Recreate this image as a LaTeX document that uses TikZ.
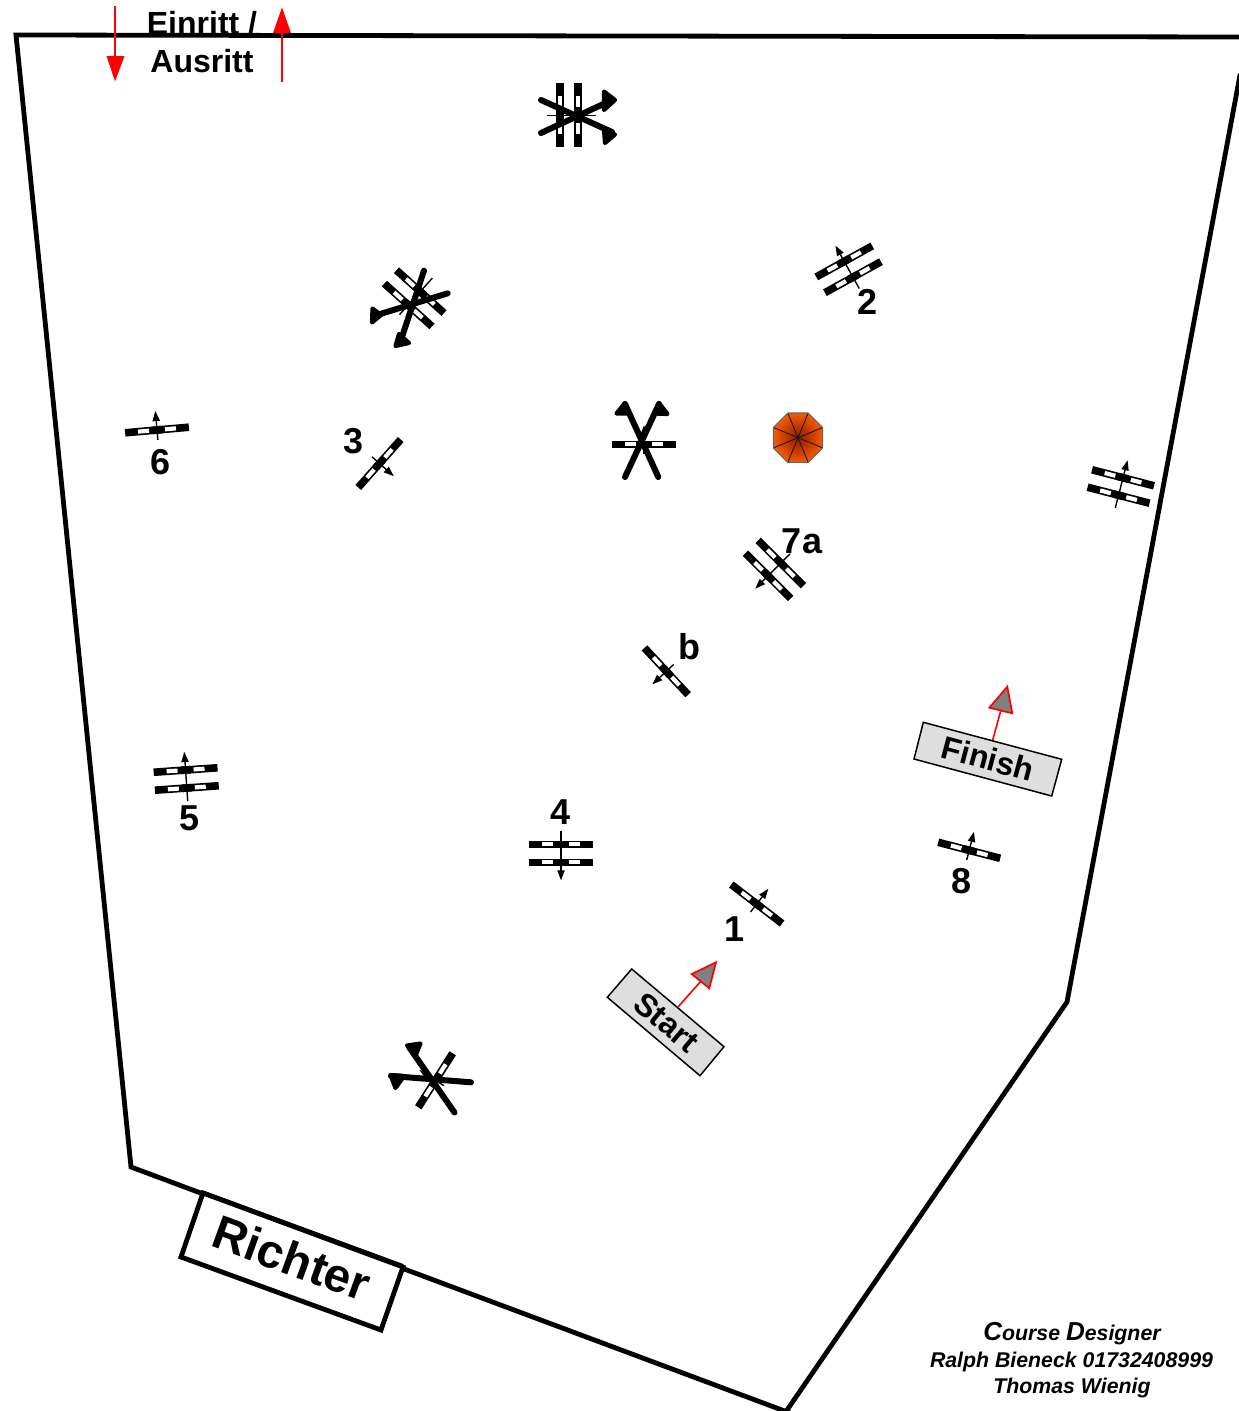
\documentclass[tikz,border=0pt]{standalone}
\usepackage{fontspec}
\setmainfont{Liberation Sans}
\definecolor{orangeout}{HTML}{F45A00}
\definecolor{orangein}{HTML}{8E1800}
\definecolor{signgray}{HTML}{DEDEDE}
\definecolor{headgray}{HTML}{808080}
\newcommand\fsz[1]{\fontsize{#1}{#1}\selectfont}
\tikzset{
  outline/.style={line width=4.8pt,line cap=round,line join=miter,black},
  poleline/.style={line width=6pt,line cap=round,black},
  flagtip/.style={fill=black,draw=black,line width=4.2pt,line join=round},
  thinarrow/.style={line width=1.4pt,black},
  redline/.style={line width=1.6pt,red},
  signbox/.style={draw=black,line width=1.5pt,fill=signgray,line join=miter},
  signhead/.style={draw=red,line width=1.7pt,fill=headgray,line join=miter},
  numlabel/.style={font=\bfseries\fsz{36},inner sep=0pt,text=black},
  gatelabel/.style={font=\bfseries\fsz{32},inner sep=0pt,text=black,anchor=base},
  signlabel/.style={font=\bfseries\fsz{32},inner sep=0pt,text=black},
  credit/.style={font=\bfseries\itshape\fsz{21.3},inner sep=0pt,text=black,anchor=base}
}
\newcommand\hurdlebar[1]{%
  \begin{scope}[shift={(0,#1)}]
    \fill[black] (-32,-3.8) rectangle (32,3.8);
    \fill[white] (-19,-2.1) rectangle (-8,2.1);
    \fill[white] (8,-2.1) rectangle (19,2.1);
  \end{scope}}
% x, y, angle: single rail with arrow
\newcommand\singlejump[3]{%
  \begin{scope}[shift={(#1,#2)},rotate=#3]
    \hurdlebar{0}
    \fill[black] (-5,-3.8) rectangle (5,3.8);
    \draw[thinarrow] (0,10) -- (0,-12);
    \fill[black] (0,-19) -- (3.8,-9) -- (-3.8,-9) -- cycle;
  \end{scope}}
% x, y, angle: two rails and the thin line, as under the flagged oxers
\newcommand\doublerails[3]{%
  \begin{scope}[shift={(#1,#2)},rotate=#3]
    \hurdlebar{-9}
    \hurdlebar{9}
    \fill[black] (-5,-12.8) rectangle (5,-5.2);
    \fill[black] (-5,5.2) rectangle (5,12.8);
    \draw[thinarrow] (0,22) -- (0,-27);
  \end{scope}}
% x, y, angle: two rails with arrow
\newcommand\doublejump[3]{%
  \doublerails{#1}{#2}{#3}%
  \begin{scope}[shift={(#1,#2)},rotate=#3]
    \fill[white] (-1,-27.5) rectangle (1,-19);
    \fill[black] (0,-27) -- (3.8,-17) -- (-3.8,-17) -- cycle;
  \end{scope}}
\begin{document}
\begin{tikzpicture}[x=1pt,y=-1pt]
\useasboundingbox (0,0) rectangle (1239,1411);
\fill[white] (0,0) rectangle (1239,1411);
\clip (0,0) rectangle (1239,1411);

% gate text (top line runs over it)
\node[gatelabel] (einritt) at (202,34) {Einritt /};
\node[gatelabel] (ausritt) at (202,72.5) {Ausritt};

% arena outline
\draw[outline] (1240,37) -- (16,35) -- (131,1167) -- (790,1413);
\draw[outline] (785,1413) -- (1067,1002) -- (1240,75);

% gate arrows
\draw[redline] (115,6) -- (115,58);
\fill[red] (106.5,56) -- (124.5,56) -- (115,81.5) -- cycle;
\draw[redline] (282,82) -- (282,30);
\fill[red] (273,33) -- (291,33) -- (282,7.5) -- cycle;

% judge box
\draw[outline,fill=white,line cap=butt] (203,1193) -- (403,1267) -- (381,1330) -- (181,1257) -- cycle;
\draw[line width=3pt] (203,1192) -- (403,1265.5);
\node[font=\bfseries\fsz{47.5},inner sep=0pt,rotate=-20] (richter) at (292,1258) {Richter};

% top combination
\doublerails{569}{115.3}{-90}
\draw[poleline] (541,100) -- (612,132);
\draw[poleline] (541,133) -- (612,100);
\draw[flagtip] (604,130) -- (615,134.5) -- (605,143) -- cycle;
\draw[flagtip] (604,91.5) -- (615,100) -- (604,110) -- cycle;

% upper-left oxer
\doublerails{414.2}{298.3}{-42}
\draw[poleline] (424,270.7) -- (401,340);
\draw[poleline] (447.7,293.3) -- (377,315);
\draw[flagtip] (399,334) -- (409,343) -- (395.5,346) -- cycle;
\draw[flagtip] (372.5,308.5) -- (381,315) -- (372,322.5) -- cycle;

% centre vertical
\singlejump{644}{444.3}{0}
\draw[poleline] (658.3,477) -- (625,404);
\draw[poleline] (625,477) -- (659,404);
\draw[flagtip] (625,403) -- (616.5,413.5) -- (630,413.5) -- cycle;
\draw[flagtip] (659,403) -- (667.5,414) -- (654,413.5) -- cycle;

% bottom vertical
\singlejump{435.5}{1080.3}{57.5}
\draw[poleline] (471,1082.3) -- (391,1076);
\draw[poleline] (454.5,1112.5) -- (409,1047);
\draw[flagtip] (390.5,1075) -- (395.5,1088) -- (404,1076) -- cycle;
\draw[flagtip] (407,1045.5) -- (420.5,1043.5) -- (416,1054.5) -- cycle;

% numbered jumps
\singlejump{756.7}{904}{-37.5}
\doublejump{848.6}{269.3}{29}
\singlejump{379.5}{463.5}{228.5}
\doublejump{561}{853.3}{180}
\doublejump{186.2}{779}{4}
\singlejump{157}{430}{5}
\doublejump{774.4}{569.5}{135}
\singlejump{666.3}{671.3}{133}
\singlejump{969.2}{850.3}{-14.5}
\doublejump{1120.8}{486.5}{-14.5}

% octagon
\shade[inner color=orangein,outer color=orangeout]
  (798,437.7) +(22.5:26.7) -- +(67.5:26.7) -- +(112.5:26.7) -- +(157.5:26.7)
  -- +(202.5:26.7) -- +(247.5:26.7) -- +(292.5:26.7) -- +(337.5:26.7) -- cycle;
\foreach \a in {22.5,67.5,...,337.5} {
  \draw[line width=0.9pt,black!90] (798,437.7) -- +(\a:26.7);
}
\draw[line width=1.1pt,black!60,line join=miter]
  (798,437.7) +(22.5:26.7) -- +(67.5:26.7) -- +(112.5:26.7) -- +(157.5:26.7)
  -- +(202.5:26.7) -- +(247.5:26.7) -- +(292.5:26.7) -- +(337.5:26.7) -- cycle;

% labels
\node[numlabel] (n1) at (735,929) {1};
\node[numlabel] (n2) at (868,302) {2};
\node[numlabel] (n3) at (354,441) {3};
\node[numlabel] (n4) at (561,812) {4};
\node[numlabel] (n5) at (189.5,818) {5};
\node[numlabel] (n6) at (160.5,462.5) {6};
\node[numlabel] (n7a) at (802,541) {7a};
\node[numlabel] (nb) at (689.5,647) {b};
\node[numlabel] (n8) at (961,881) {8};

% start sign
\coordinate (starttail) at (678.3,1006.7);
\coordinate (starthead) at (701,981);
\draw[redline] (starttail) -- (starthead);
\draw[signhead] (716,962.3) -- (691.7,974) -- (709.3,988.3) -- cycle;
\draw[signbox] (631.7,969) -- (724,1046.7) -- (700,1075.7) -- (607.3,997.3) -- cycle;
\node[signlabel,rotate=-40] (start) at (666.5,1022) {Start};

% finish sign
\coordinate (fintail) at (992.7,740);
\coordinate (finhead) at (1000.8,710.5);
\draw[redline] (fintail) -- (finhead);
\draw[signhead] (1007.3,686.7) -- (989.3,707.7) -- (1012.3,713.3) -- cycle;
\draw[signbox] (923.3,722.3) -- (1061.7,759.3) -- (1051.7,796) -- (914,759) -- cycle;
\node[signlabel,rotate=-15] (finish) at (988,758.5) {Finish};

% credits
\node[credit] (c1) at (1072,1340) {{\fsz{26}C}ourse {\fsz{26}D}esigner};
\node[credit] (c2) at (1071.5,1367) {Ralph Bieneck 01732408999};
\node[credit] (c3) at (1072,1393) {Thomas Wienig};
\end{tikzpicture}
\end{document}
